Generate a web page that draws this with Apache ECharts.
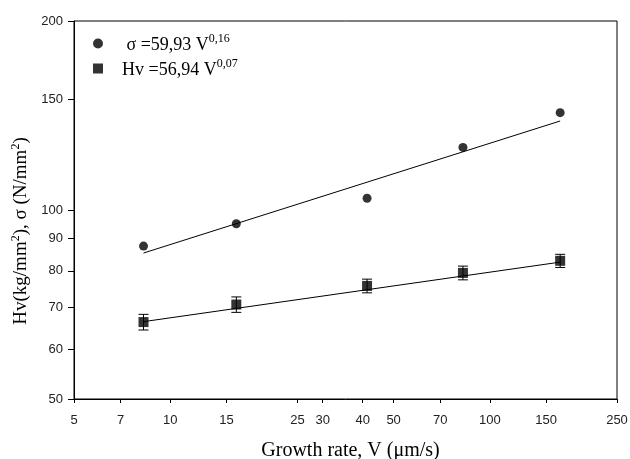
<!DOCTYPE html>
<html>
<head>
  <meta charset="UTF-8">
  <title>Hv and sigma vs growth rate</title>
  <script src="https://cdn.jsdelivr.net/npm/echarts@6/dist/echarts.min.js"></script>
  <style>
    html, body { margin: 0; padding: 0; background: #fff; }
    #main { width: 630px; height: 459px; }
  </style>
</head>
<body>
  <div id="main"></div>
  <script type="text/javascript">
    // growth rate V (um/s)
    var rates = [8.25, 16.1, 41.3, 82.4, 166];
    // sigma (N/mm2) measured
    var sigmaVals = [87.6, 95.1, 104.4, 125.8, 142.9];
    // Hv (kg/mm2) measured, with error
    var hvVals = [66.3, 70.7, 75.7, 79.4, 83.0];
    var hvErr = [1.9, 2.0, 1.9, 2.0, 2.0];
    // fitted line end points
    var sigmaFit = [[8.25, 85.4], [166, 138.6]];
    var hvFit = [[8.25, 66.4], [166, 82.6]];
    // tick labels
    var xTicks = [5, 7, 10, 15, 25, 30, 40, 50, 70, 100, 150, 250];
    var yTicks = [50, 60, 70, 80, 90, 100, 150, 200];

    var serif = '"Liberation Serif", "DejaVu Serif", serif';
    var sans = '"Liberation Sans", Arial, sans-serif';

    var myChart = echarts.init(document.getElementById('main'));

    function pairs(xs, ys) {
      var out = [];
      for (var i = 0; i < xs.length; i++) out.push([xs[i], ys[i]]);
      return out;
    }

    var errData = [];
    for (var i = 0; i < rates.length; i++) {
      errData.push([rates[i], hvVals[i] - hvErr[i], hvVals[i] + hvErr[i]]);
    }

    var option = {
      animation: false,
      backgroundColor: '#fff',
      grid: {
        left: 74, right: 13, top: 21, bottom: 60,
        outerBoundsMode: 'none',
        show: true, borderColor: '#000', borderWidth: 1
      },
      legend: {
        orient: 'vertical',
        left: 88, top: 28,
        itemWidth: 10, itemHeight: 10,
        itemGap: 4,
        data: [
          { name: 'σ', icon: 'circle' },
          { name: 'Hv', icon: 'rect' }
        ],
        formatter: function (name) {
          if (name === 'σ') return '{t| σ =59,93 V}{s|0,16}';
          return '{t|Hv =56,94 V}{s|0,07}';
        },
        textStyle: {
          padding: [0, 0, 0, 14],
          rich: {
            t: { fontFamily: serif, fontSize: 18, color: '#000', verticalAlign: 'bottom' },
            s: { fontFamily: serif, fontSize: 12, color: '#000', verticalAlign: 'bottom', padding: [0, 0, 9, 0] }
          }
        }
      },
      xAxis: {
        type: 'log', logBase: 10, min: 5, max: 250,
        name: 'Growth rate, V (μm/s)',
        nameLocation: 'middle', nameGap: 42,
        nameTextStyle: { fontFamily: serif, fontSize: 20, color: '#000', padding: [0, 0, 0, 10] },
        axisLine: { lineStyle: { color: '#000', width: 1 } },
        axisTick: { show: true, length: 4, lineStyle: { color: '#000' }, customValues: xTicks },
        axisLabel: { fontFamily: sans, fontSize: 13, color: '#222', margin: 15, customValues: xTicks },
        splitLine: { show: false },
        minorTick: { show: false }
      },
      yAxis: {
        type: 'log', logBase: 10, min: 50, max: 200,
        name: 'Hv(kg/mm{s|2}), σ (N/mm{s|2})',
        nameLocation: 'middle', nameGap: 42,
        nameTextStyle: {
          fontFamily: serif, fontSize: 19, color: '#000',
          padding: [0, 42, 0, 0],
          rich: {
            s: { fontFamily: serif, fontSize: 12, color: '#000', verticalAlign: 'bottom', padding: [0, 0, 10, 0] }
          }
        },
        axisLine: { lineStyle: { color: '#000', width: 1 } },
        axisTick: { show: true, length: 6, lineStyle: { color: '#000' }, customValues: yTicks },
        axisLabel: { fontFamily: sans, fontSize: 13, color: '#222', margin: 11, customValues: yTicks },
        splitLine: { show: false },
        minorTick: { show: false }
      },
      series: [
        {
          name: 'σfit', type: 'line', data: sigmaFit,
          showSymbol: false, lineStyle: { color: '#000', width: 1 }, z: 2
        },
        {
          name: 'Hvfit', type: 'line', data: hvFit,
          showSymbol: false, lineStyle: { color: '#000', width: 1 }, z: 2
        },
        {
          name: 'Hverr', type: 'custom', data: errData, z: 3,
          renderItem: function (params, api) {
            var x = api.value(0);
            var lo = api.coord([x, api.value(1)]);
            var hi = api.coord([x, api.value(2)]);
            var half = 5;
            var st = { stroke: '#000', lineWidth: 1 };
            return {
              type: 'group',
              children: [
                { type: 'line', shape: { x1: lo[0], y1: lo[1], x2: hi[0], y2: hi[1] }, style: st },
                { type: 'line', shape: { x1: lo[0] - half, y1: lo[1], x2: lo[0] + half, y2: lo[1] }, style: st },
                { type: 'line', shape: { x1: hi[0] - half, y1: hi[1], x2: hi[0] + half, y2: hi[1] }, style: st }
              ]
            };
          }
        },
        {
          name: 'σ', type: 'scatter', data: pairs(rates, sigmaVals),
          symbol: 'circle', symbolSize: 9,
          itemStyle: { color: '#000' }, z: 4
        },
        {
          name: 'Hv', type: 'scatter', data: pairs(rates, hvVals),
          symbol: 'rect', symbolSize: 10,
          itemStyle: { color: '#000' }, z: 4
        }
      ]
    };

    myChart.setOption(option);
  </script>
</body>
</html>
